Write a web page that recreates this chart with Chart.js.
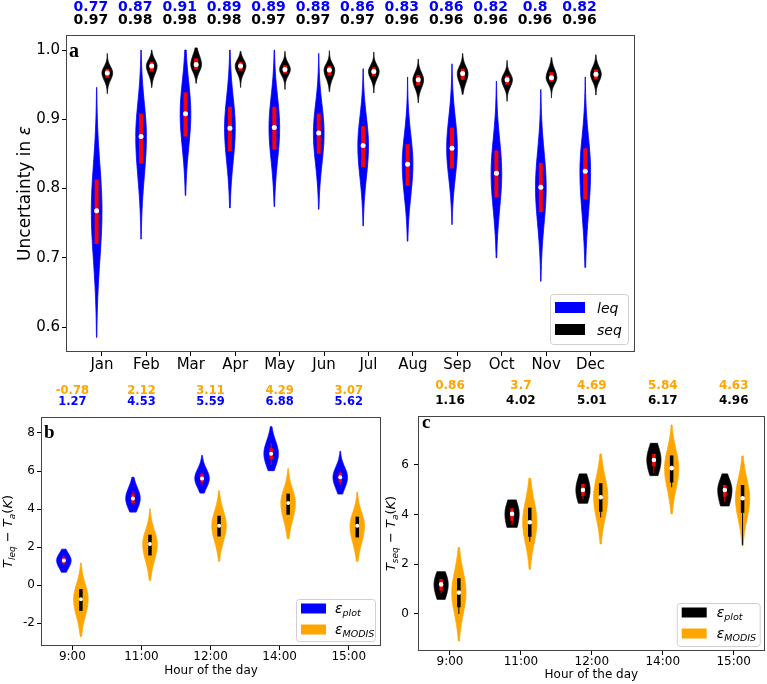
<!DOCTYPE html>
<html>
<head>
<meta charset="utf-8">
<script src="https://cdn.jsdelivr.net/npm/chart.js@4.4.1/dist/chart.umd.min.js"></script>
<style>
  html, body { margin: 0; padding: 0; background: #fff; }
  body { width: 767px; height: 684px; position: relative; overflow: hidden; }
  canvas { position: absolute; }
  #chartA { left: 0; top: 0; }
  #chartB { left: 0; top: 380px; }
  #chartC { left: 384px; top: 380px; }
</style>
</head>
<body>
<canvas id="chartA" width="767" height="380"></canvas>
<canvas id="chartB" width="384" height="304"></canvas>
<canvas id="chartC" width="383" height="304"></canvas>
<script>
const FONT = "'DejaVu Sans', sans-serif";
Chart.defaults.font.family = FONT;
Chart.defaults.color = '#000';
Chart.defaults.animation = false;

// ---- panel a: uncertainty in emissivity per month ----
const months = ['Jan', 'Feb', 'Mar', 'Apr', 'May', 'Jun', 'Jul', 'Aug', 'Sep', 'Oct', 'Nov', 'Dec'];
const leqMed = [0.768, 0.875, 0.908, 0.887, 0.888, 0.880, 0.862, 0.835, 0.858, 0.822, 0.802, 0.825];
const leqQ1  = [0.720, 0.836, 0.875, 0.854, 0.856, 0.850, 0.831, 0.804, 0.829, 0.787, 0.766, 0.784];
const leqQ3  = [0.813, 0.908, 0.939, 0.918, 0.918, 0.908, 0.890, 0.864, 0.888, 0.855, 0.837, 0.858];
const leqMin = [0.585, 0.727, 0.790, 0.772, 0.774, 0.770, 0.746, 0.724, 0.748, 0.700, 0.666, 0.686];
const leqMax = [0.946, 1.000, 1.000, 1.000, 1.000, 0.995, 0.973, 0.961, 0.980, 0.955, 0.943, 0.961];
const seqMed = [0.967, 0.977, 0.979, 0.977, 0.972, 0.971, 0.969, 0.957, 0.966, 0.957, 0.960, 0.965];
const seqQ1  = [0.960, 0.969, 0.972, 0.970, 0.966, 0.963, 0.962, 0.949, 0.957, 0.950, 0.954, 0.958];
const seqQ3  = [0.973, 0.983, 0.988, 0.983, 0.978, 0.977, 0.975, 0.964, 0.973, 0.963, 0.968, 0.972];
const seqMin = [0.937, 0.946, 0.952, 0.946, 0.943, 0.940, 0.938, 0.924, 0.936, 0.926, 0.931, 0.935];
const seqMax = [0.995, 1.000, 1.003, 0.998, 0.998, 0.999, 0.997, 0.987, 0.995, 0.985, 0.989, 0.993];
const leqLabels = ['0.77', '0.87', '0.91', '0.89', '0.89', '0.88', '0.86', '0.83', '0.86', '0.82', '0.8', '0.82'];
const seqLabels = ['0.97', '0.98', '0.98', '0.98', '0.97', '0.97', '0.97', '0.96', '0.96', '0.96', '0.96', '0.96'];
const yTicksA = [0.6, 0.7, 0.8, 0.9, 1.0];

// ---- panels b and c: temperature difference per hour ----
const hours = ['9:00', '11:00', '12:00', '14:00', '15:00'];

const bPlotMed = [1.30, 4.56, 5.61, 6.91, 5.67];
const bPlotQ1  = [1.12, 4.32, 5.40, 6.62, 5.42];
const bPlotQ3  = [1.46, 4.80, 5.82, 7.20, 5.90];
const bPlotLo  = [1.04, 4.23, 5.28, 6.33, 5.28];
const bPlotHi  = [1.58, 4.96, 5.92, 7.47, 5.98];
const bPlotMin = [0.68, 3.84, 4.84, 6.02, 4.79];
const bPlotMax = [1.89, 5.67, 6.82, 8.33, 7.04];
const bModisMed = [-0.74, 2.16, 3.12, 4.32, 3.12];
const bModisQ1  = [-1.35, 1.56, 2.56, 3.70, 2.51];
const bModisQ3  = [-0.21, 2.65, 3.65, 4.81, 3.60];
const bModisMin = [-2.70, 0.25, 1.25, 2.44, 1.25];
const bModisMax = [1.16, 4.02, 4.96, 6.12, 4.89];
const bModisLabels = ['-0.78', '2.12', '3.11', '4.29', '3.07'];
const bPlotLabels  = ['1.27', '4.53', '5.59', '6.88', '5.62'];
const yTicksB = [-2, 0, 2, 4, 6, 8];

const cPlotMed = [1.19, 4.03, 4.99, 6.20, 4.99];
const cPlotQ1  = [0.95, 3.75, 4.75, 5.95, 4.72];
const cPlotQ3  = [1.40, 4.26, 5.23, 6.44, 5.19];
const cPlotLo  = [0.82, 3.58, 4.62, 5.68, 4.52];
const cPlotMin = [0.59, 3.49, 4.46, 5.57, 4.35];
const cPlotMax = [1.70, 4.59, 5.64, 6.87, 5.64];
const cModisMed = [0.86, 3.69, 4.70, 5.87, 4.66];
const cModisQ1  = [0.27, 3.11, 4.12, 5.29, 4.08];
const cModisQ3  = [1.44, 4.28, 5.26, 6.38, 5.19];
const cModisLo  = [0.00, 2.91, 3.89, 5.10, 2.78];
const cModisMin = [-1.09, 1.80, 2.82, 4.03, 2.74];
const cModisMax = [2.68, 5.46, 6.44, 7.61, 6.36];
const cModisLabels = ['0.86', '3.7', '4.69', '5.84', '4.63'];
const cPlotLabels  = ['1.16', '4.02', '5.01', '6.17', '4.96'];
const yTicksC = [0, 2, 4, 6];

const BLUE = '#0000ff';
const ORANGE = '#ffa500';
const RED = '#ff0000';
const BLACK = '#000000';

function stat(src, i) {
    return {
        min: src.min[i], q1: src.q1[i], med: src.med[i], q3: src.q3[i], max: src.max[i],
        lo: src.lo ? src.lo[i] : src.q1[i],
        hi: src.hi ? src.hi[i] : src.q3[i],
    };
}

/**
 * Violin body: smooth two-sided bell around the median, spread taken from the quartiles,
 * cut at min / max like a KDE evaluated on the data range.
 */
function drawViolin(ctx, xs, ys, pos, half, st, color, bw) {
    const vals = [];
    const n = 80;
    for (let k = 0; k <= n; k++) vals.push(st.min + (st.max - st.min) * k / n);
    vals.push(st.med);
    vals.sort((a, b) => a - b);
    const sLo = Math.max((st.med - st.q1) / 0.6745, 1e-6) * bw;
    const sHi = Math.max((st.q3 - st.med) / 0.6745, 1e-6) * bw;
    const w = vals.map(v => {
        const s = v < st.med ? sLo : sHi;
        return half * Math.exp(-0.5 * ((v - st.med) / s) ** 2);
    });
    ctx.beginPath();
    vals.forEach((v, k) => {
        const px = xs.getPixelForValue(pos + w[k]);
        const py = ys.getPixelForValue(v);
        if (k === 0) ctx.moveTo(px, py); else ctx.lineTo(px, py);
    });
    for (let k = vals.length - 1; k >= 0; k--) {
        ctx.lineTo(xs.getPixelForValue(pos - w[k]), ys.getPixelForValue(vals[k]));
    }
    ctx.closePath();
    ctx.fillStyle = color;
    ctx.fill();
    ctx.strokeStyle = color;
    ctx.lineWidth = 0.8;
    ctx.stroke();
}

function drawInner(ctx, xs, ys, pos, st, color, barW) {
    const px = xs.getPixelForValue(pos);
    ctx.strokeStyle = color;
    ctx.lineCap = 'butt';
    if (st.lo < st.q1 || st.hi > st.q3) {
        ctx.lineWidth = 1;
        ctx.beginPath();
        ctx.moveTo(px, ys.getPixelForValue(st.lo));
        ctx.lineTo(px, ys.getPixelForValue(st.hi));
        ctx.stroke();
    }
    ctx.lineWidth = barW;
    ctx.beginPath();
    ctx.moveTo(px, ys.getPixelForValue(st.q1));
    ctx.lineTo(px, ys.getPixelForValue(st.q3));
    ctx.stroke();
}

function runsWidth(ctx, runs) {
    let w = 0;
    runs.forEach(r => { ctx.font = r.font; w += ctx.measureText(r.t).width; });
    return w;
}

function drawRuns(ctx, runs, x, y) {
    runs.forEach(r => {
        ctx.font = r.font;
        ctx.fillText(r.t, x, y + (r.dy || 0));
        x += ctx.measureText(r.t).width;
    });
}

const it = (size) => `italic ${size}px ${FONT}`;
const up = (size) => `${size}px ${FONT}`;

function panelPlugin(cfg) {
    return {
        id: 'panel_' + cfg.name,
        beforeDatasetsDraw(chart) {
            const { ctx, chartArea: ca, scales: { x, y } } = chart;
            ctx.save();
            ctx.beginPath();
            ctx.rect(ca.left, ca.top, ca.right - ca.left, ca.bottom - ca.top);
            ctx.clip();
            cfg.groups.forEach(g => {
                g.src.med.forEach((_, i) => {
                    const st = stat(g.src, i);
                    const pos = cfg.pos(i) + g.offset;
                    drawViolin(ctx, x, y, pos, cfg.half, st, g.body, g.bw || 1);
                    drawInner(ctx, x, y, pos, st, g.bar, g.barW);
                });
            });
            ctx.restore();
        },
        afterDraw(chart) {
            const { ctx, chartArea: ca, scales: { x } } = chart;
            ctx.save();
            // axes frame
            ctx.strokeStyle = '#444';
            ctx.lineWidth = 1;
            ctx.strokeRect(Math.round(ca.left) + 0.5, Math.round(ca.top) + 0.5,
                Math.round(ca.right - ca.left) - 1, Math.round(ca.bottom - ca.top) - 1);

            // panel letter
            ctx.fillStyle = '#000';
            ctx.textAlign = 'left';
            ctx.textBaseline = 'alphabetic';
            ctx.font = `bold ${cfg.letter.size}px 'Liberation Serif', serif`;
            ctx.fillText(cfg.letter.t, cfg.letter.x, cfg.letter.y);

            // median values above the panel
            ctx.textAlign = 'center';
            ctx.textBaseline = 'middle';
            ctx.font = `bold ${cfg.topSize}px ${FONT}`;
            cfg.topRows.forEach(row => {
                ctx.fillStyle = row.color;
                row.texts.forEach((t, i) => {
                    ctx.fillText(t, x.getPixelForValue(cfg.pos(i) + cfg.topShift), row.y);
                });
            });

            // legend
            const L = cfg.legend;
            const bx = ca.right - L.right - L.w;
            const by = ca.bottom - L.bottom - L.h;
            ctx.beginPath();
            ctx.roundRect(bx + 0.5, by + 0.5, L.w, L.h, 3);
            ctx.fillStyle = 'rgba(255,255,255,0.85)';
            ctx.fill();
            ctx.strokeStyle = '#d0d0d0';
            ctx.stroke();
            ctx.textAlign = 'left';
            ctx.textBaseline = 'alphabetic';
            L.items.forEach((item, k) => {
                const cy = by + L.first + k * L.row;
                ctx.fillStyle = item.color;
                ctx.fillRect(bx + L.patchX, cy - L.patchH / 2, L.patchW, L.patchH);
                ctx.fillStyle = '#000';
                drawRuns(ctx, item.runs, bx + L.textX, cy + L.base);
            });

            // rotated y title
            const Y = cfg.ylabel;
            const cyMid = (ca.top + ca.bottom) / 2 + (Y.dy || 0);
            ctx.translate(Y.x, cyMid);
            ctx.rotate(-Math.PI / 2);
            ctx.fillStyle = '#000';
            drawRuns(ctx, Y.runs, -runsWidth(ctx, Y.runs) / 2, 0);
            ctx.restore();
        },
    };
}

function makeChart(id, cfg) {
    const tickGrid = { display: true, drawOnChartArea: false, drawTicks: true, tickLength: 4, color: '#000', lineWidth: 1 };
    return new Chart(document.getElementById(id), {
        type: 'scatter',
        data: {
            datasets: cfg.groups.map(g => ({
                data: g.src.med.map((m, i) => ({ x: cfg.pos(i) + g.offset, y: m })),
                pointRadius: cfg.dotR,
                pointHoverRadius: cfg.dotR,
                pointBackgroundColor: '#ffffff',
                pointBorderWidth: 0,
            })),
        },
        options: {
            responsive: false,
            animation: false,
            events: [],
            layout: { padding: cfg.padding },
            plugins: { legend: { display: false }, tooltip: { enabled: false } },
            scales: {
                x: {
                    type: 'linear',
                    min: cfg.xRange[0],
                    max: cfg.xRange[1],
                    afterBuildTicks: s => { s.ticks = cfg.xLabels.map((_, i) => ({ value: cfg.pos(i) })); },
                    afterFit: s => { s.height = cfg.xAxisH; },
                    ticks: {
                        callback: (v, i) => cfg.xLabels[i],
                        font: { size: cfg.tickFont },
                        color: '#000',
                        padding: 0,
                        autoSkip: false,
                        maxRotation: 0,
                    },
                    grid: tickGrid,
                    border: { display: false },
                    title: cfg.xTitle ? {
                        display: true,
                        text: cfg.xTitle,
                        font: { size: cfg.tickFont },
                        color: '#000',
                        padding: { top: 0, bottom: cfg.xTitlePad },
                    } : { display: false },
                },
                y: {
                    type: 'linear',
                    min: cfg.yRange[0],
                    max: cfg.yRange[1],
                    afterBuildTicks: s => { s.ticks = cfg.yTicks.map(v => ({ value: v })); },
                    afterFit: s => { s.width = cfg.yAxisW; },
                    ticks: {
                        callback: cfg.yFmt,
                        font: { size: cfg.tickFont },
                        color: '#000',
                        padding: cfg.yTickPad,
                    },
                    grid: tickGrid,
                    border: { display: false },
                },
            },
        },
        plugins: [panelPlugin(cfg)],
    });
}

const leqStats = { min: leqMin, q1: leqQ1, med: leqMed, q3: leqQ3, max: leqMax };
const seqStats = { min: seqMin, q1: seqQ1, med: seqMed, q3: seqQ3, max: seqMax };
const bPlotStats = { min: bPlotMin, q1: bPlotQ1, med: bPlotMed, q3: bPlotQ3, max: bPlotMax, lo: bPlotLo, hi: bPlotHi };
const bModisStats = { min: bModisMin, q1: bModisQ1, med: bModisMed, q3: bModisQ3, max: bModisMax };
const cPlotStats = { min: cPlotMin, q1: cPlotQ1, med: cPlotMed, q3: cPlotQ3, max: cPlotMax, lo: cPlotLo };
const cModisStats = { min: cModisMin, q1: cModisQ1, med: cModisMed, q3: cModisQ3, max: cModisMax, lo: cModisLo };

const epsRuns = (sub) => [
    { t: 'ε', font: it(14) },
    { t: sub, font: it(9.5), dy: 3 },
];

makeChart('chartA', {
    name: 'a',
    pos: i => i + 1,
    half: 0.12,
    dotR: 2.5,
    groups: [
        { src: leqStats, offset: -0.12, body: BLUE, bar: RED, barW: 4 },
        { src: seqStats, offset: 0.12, body: BLACK, bar: RED, barW: 4 },
    ],
    xRange: [0.19, 13.0],
    xLabels: months,
    yRange: [0.5639, 1.0217],
    yTicks: yTicksA,
    yFmt: v => v.toFixed(1),
    tickFont: 15,
    yTickPad: 2,
    padding: { left: 0, top: 35, right: 132, bottom: 0 },
    yAxisW: 66,
    xAxisH: 28,
    xTitle: null,
    letter: { t: 'a', x: 69, y: 57, size: 20 },
    topSize: 14,
    topShift: -0.25,
    topRows: [
        { texts: leqLabels, color: BLUE, y: 7 },
        { texts: seqLabels, color: BLACK, y: 20.5 },
    ],
    legend: {
        w: 78, h: 50, right: 7, bottom: 8,
        patchX: 5, patchW: 30, patchH: 11, textX: 47,
        first: 13.5, row: 22, base: 5,
        items: [
            { color: BLUE, runs: [{ t: 'leq', font: it(14) }] },
            { color: BLACK, runs: [{ t: 'seq', font: it(14) }] },
        ],
    },
    ylabel: {
        x: 30,
        runs: [{ t: 'Uncertainty in ', font: up(17) }, { t: 'ε', font: it(17) }],
    },
});

makeChart('chartB', {
    name: 'b',
    pos: i => i,
    half: 0.105,
    dotR: 2,
    groups: [
        { src: bPlotStats, offset: -0.123, body: BLUE, bar: RED, barW: 3.5, bw: 1.6 },
        { src: bModisStats, offset: 0.123, body: ORANGE, bar: BLACK, barW: 3.5 },
    ],
    xRange: [-0.454, 4.467],
    xLabels: hours,
    yRange: [-3.2, 8.84],
    yTicks: yTicksB,
    yFmt: v => String(v),
    tickFont: 12,
    yTickPad: 2,
    padding: { left: 0, top: 37, right: 3, bottom: 0 },
    yAxisW: 41,
    xAxisH: 38,
    xTitle: 'Hour of the day',
    xTitlePad: 6,
    letter: { t: 'b', x: 44, y: 58, size: 19 },
    topSize: 11.5,
    topShift: 0,
    topRows: [
        { texts: bModisLabels, color: ORANGE, y: 11 },
        { texts: bPlotLabels, color: BLUE, y: 22.5 },
    ],
    legend: {
        w: 79, h: 42, right: 6, bottom: 5,
        patchX: 5, patchW: 25, patchH: 10, textX: 39,
        first: 9.5, row: 21, base: 4,
        items: [
            { color: BLUE, runs: epsRuns('plot') },
            { color: ORANGE, runs: epsRuns('MODIS') },
        ],
    },
    ylabel: {
        x: 12,
        runs: [
            { t: 'T', font: it(13) }, { t: 'leq', font: it(9), dy: 3 },
            { t: ' − ', font: up(13) },
            { t: 'T', font: it(13) }, { t: 'a', font: it(9), dy: 3 },
            { t: '(', font: up(13) }, { t: 'K', font: it(13) }, { t: ')', font: up(13) },
        ],
    },
});

makeChart('chartC', {
    name: 'c',
    pos: i => i,
    half: 0.1,
    dotR: 2.3,
    groups: [
        { src: cPlotStats, offset: -0.125, body: BLACK, bar: RED, barW: 3.5, bw: 1.6 },
        { src: cModisStats, offset: 0.125, body: ORANGE, bar: BLACK, barW: 3.5 },
    ],
    xRange: [-0.451, 4.437],
    xLabels: hours,
    yRange: [-1.49, 7.97],
    yTicks: yTicksC,
    yFmt: v => String(v),
    tickFont: 12,
    yTickPad: 5,
    padding: { left: 0, top: 36, right: 2, bottom: 0 },
    yAxisW: 34,
    xAxisH: 33,
    xTitle: 'Hour of the day',
    xTitlePad: 2,
    letter: { t: 'c', x: 38, y: 48, size: 19 },
    topSize: 12,
    topShift: 0,
    topRows: [
        { texts: cModisLabels, color: ORANGE, y: 6 },
        { texts: cPlotLabels, color: BLACK, y: 21 },
    ],
    legend: {
        w: 83, h: 43, right: 5, bottom: 5,
        patchX: 5, patchW: 25, patchH: 10, textX: 40,
        first: 9.5, row: 21, base: 4,
        items: [
            { color: BLACK, runs: epsRuns('plot') },
            { color: ORANGE, runs: epsRuns('MODIS') },
        ],
    },
    ylabel: {
        x: 11,
        runs: [
            { t: 'T', font: it(13) }, { t: 'seq', font: it(9), dy: 3 },
            { t: ' − ', font: up(13) },
            { t: 'T', font: it(13) }, { t: 'a', font: it(9), dy: 3 },
            { t: '(', font: up(13) }, { t: 'K', font: it(13) }, { t: ')', font: up(13) },
        ],
    },
});
</script>
</body>
</html>
